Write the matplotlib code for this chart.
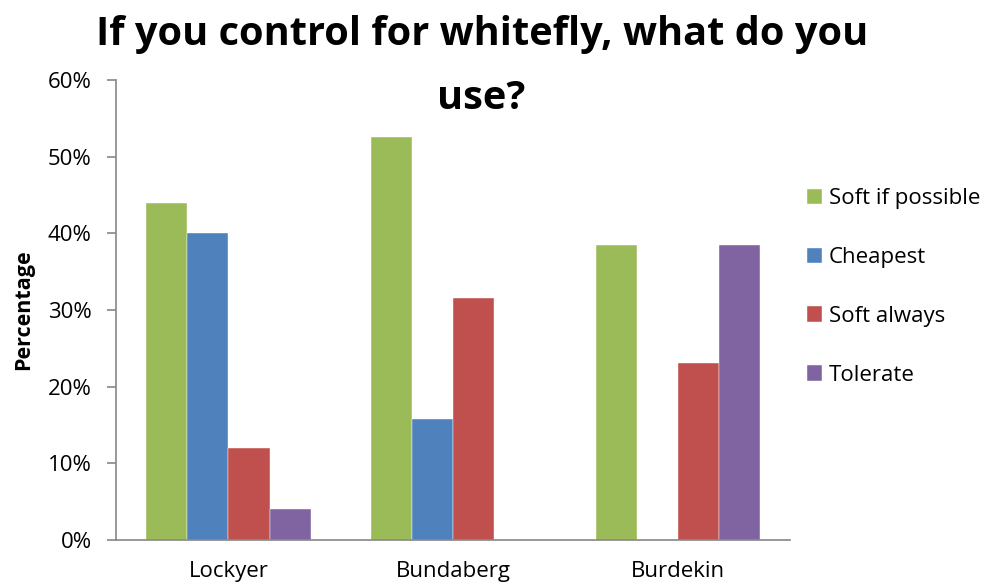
import numpy as np
import matplotlib.pyplot as plt
from matplotlib.ticker import PercentFormatter

plt.rcParams['font.family'] = ['Open Sans', 'DejaVu Sans']

regions = ['Lockyer', 'Bundaberg', 'Burdekin']
series = ['Soft if possible', 'Cheapest', 'Soft always', 'Tolerate']
soft_if_possible = [44.0, 52.6, 38.5]
cheapest = [40.0, 15.8, 0.0]
soft_always = [12.0, 31.6, 23.1]
tolerate = [4.0, 0.0, 38.5]
colores = ['#9BBB59', '#4F81BD', '#C0504D', '#8064A2']

fig = plt.figure(figsize=(9.89, 5.84), dpi=100)
ax = fig.add_axes([0.1173, 0.0753, 0.6817, 0.7877])

x = np.arange(len(regions))
ancho = 0.183
valores = [soft_if_possible, cheapest, soft_always, tolerate]
for i, (nombre, vals) in enumerate(zip(series, valores)):
    ax.bar(x + (i - 1.5)*ancho, vals, ancho, color=colores[i], label=nombre,
           edgecolor='white', linewidth=0.3)

ax.set_xlim(-0.5, 2.5)
ax.set_ylim(0, 60)
ax.set_yticks(np.arange(0, 61, 10))
ax.yaxis.set_major_formatter(PercentFormatter(decimals=0))
ax.set_xticks(x)
ax.set_xticklabels(regions)
ax.tick_params(axis='x', length=0, pad=15, labelsize=16)
ax.tick_params(axis='y', length=6.5, width=1.2, color='#868686', pad=11, labelsize=16)
for s in ['top', 'right']:
    ax.spines[s].set_visible(False)
for s in ['left', 'bottom']:
    ax.spines[s].set_color('#868686')
    ax.spines[s].set_linewidth(1.2)
ax.set_ylabel('Percentage', fontsize=15.5, fontweight='bold', labelpad=10)

ax.legend(loc='center left', bbox_to_anchor=(0.995, 0.55), frameon=False,
          fontsize=16, handlelength=0.7, handleheight=0.7, handletextpad=0.3,
          labelspacing=1.7)

fig.text(0.487, 0.975, 'If you control for whitefly, what do you\nuse?',
         ha='center', va='top', fontsize=28.6, fontweight='bold', linespacing=1.85)

fig.savefig('out.png', dpi=100)
